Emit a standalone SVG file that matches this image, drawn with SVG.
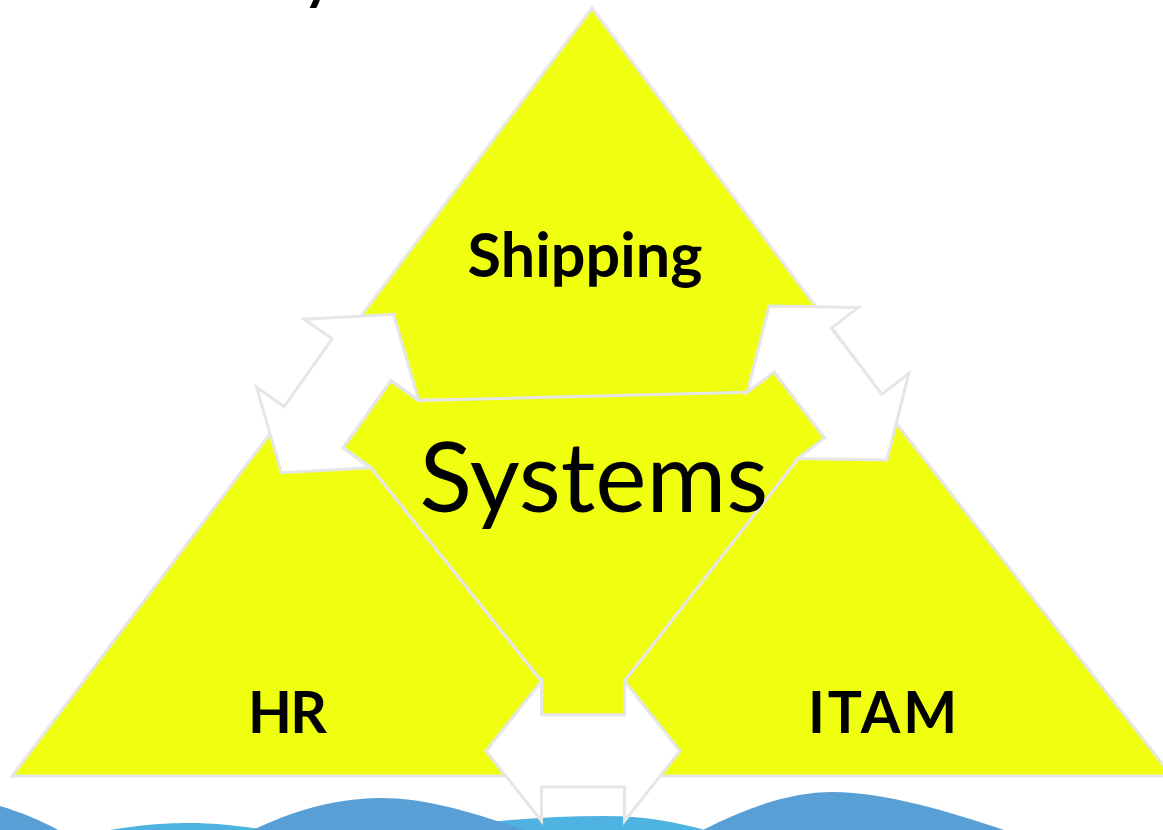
<svg xmlns="http://www.w3.org/2000/svg" width="1163" height="830" viewBox="0 0 1163 830">
<defs>
<style>
.tri{fill:#f0ff0f;stroke:#e6e6e6;stroke-width:3;stroke-linejoin:miter}
.arrow{fill:#ffffff;stroke:#e6e6e6;stroke-width:3;stroke-linejoin:miter}
.lbl{font-family:Lato,"Open Sans","Liberation Sans",sans-serif;font-weight:700;fill:#000000;text-anchor:middle}
.big{font-family:Lato,"Open Sans","Liberation Sans",sans-serif;font-weight:400;fill:#000000;text-anchor:middle}
.waveDark{fill:#589fd5}
.waveLight{fill:#4eb3e0}
</style>
<path id="dblArrow" d="M-97,0 L-41.5,-70 L-41.5,-36 L41.5,-36 L41.5,-70 L97,0 L41.5,70 L41.5,36 L-41.5,36 L-41.5,70 Z"/>
<clipPath id="centerClip">
<polygon points="418.3,400.4 746.9,392.3 773.9,371.6 824.9,438.2 797.9,458.9 624.5,681 624.5,715 541.5,715 541.5,681 370.9,467.4 343.2,447.8 390.6,380.8"/>
</clipPath>
</defs>

<g id="title-fragment">
<text class="lbl" x="318" y="-1" font-size="56">y</text>
</g>

<g id="waves">
<path class="waveLight" d="M110,830 C145,824 168,823 190,823 C215,823 240,826 268,830 Z"/>
<path class="waveLight" d="M430,830 C485,821 545,816 605,816 C645,816 675,822 705,830 Z"/>
<path class="waveDark" d="M0,806 C20,812 40,820 58,830 L0,830 Z"/>
<path class="waveDark" d="M253,830 C290,812 335,798 380,798 C430,798 480,815 524,830 Z"/>
<path class="waveDark" d="M703,830 C745,808 790,792 833,792 C885,792 950,812 1004,830 Z"/>
</g>

<g id="node-hr">
<polygon class="tri" points="12,776 306,386 617,776"/>
<text class="lbl" x="287.5" y="733" font-size="57" textLength="79" lengthAdjust="spacing">HR</text>
</g>

<g id="node-itam">
<polygon class="tri" points="550,776 861,378 1172,776"/>
<text class="lbl" x="882.5" y="733" font-size="57" textLength="149" lengthAdjust="spacing">ITAM</text>
</g>

<g id="node-shipping">
<polygon class="tri" points="592,8 886,400 298,400"/>
<text class="lbl" x="585" y="277" font-size="61" textLength="235" lengthAdjust="spacing">Shipping</text>
</g>

<g id="node-systems">
<polygon class="tri" points="418.3,400.4 746.9,392.3 773.9,371.6 824.9,438.2 797.9,458.9 624.5,681 624.5,715 541.5,715 541.5,681 370.9,467.4 343.2,447.8 390.6,380.8"/>
<text class="big" x="594" y="512" font-size="97" clip-path="url(#centerClip)">Systems</text>
</g>

<g id="connectors">
<use href="#dblArrow" class="arrow" transform="translate(337.5,393.5) rotate(-54.7)"/>
<use href="#dblArrow" class="arrow" transform="translate(828,383) rotate(52.6)"/>
<use href="#dblArrow" class="arrow" transform="translate(583,751)"/>
</g>
</svg>
